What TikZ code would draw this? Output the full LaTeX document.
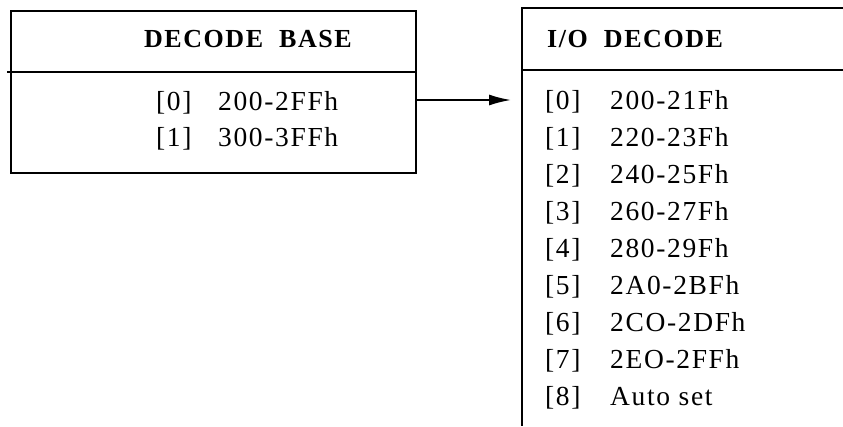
\documentclass[tikz,border=0pt]{standalone}
\usepackage{fontspec}
\setmainfont{Liberation Serif}
\newfontfamily\hdfont[LetterSpace=6]{Liberation Serif}
\newfontfamily\itfont[LetterSpace=6]{Liberation Serif}
\usetikzlibrary{arrows.meta}
\begin{document}
\begin{tikzpicture}[x=1pt,y=-1pt,
  frame/.style={line width=1.8pt},
  itemtext/.style={anchor=base west,inner sep=0pt,font=\itfont\fontsize{27.5}{30}\selectfont},
  headtext/.style={anchor=base,inner sep=0pt,font=\hdfont\bfseries\fontsize{26}{30}\selectfont},
  conn/.style={line width=1.8pt,-{Latex[length=22pt,width=11pt]}}]
\useasboundingbox (0,0) rectangle (843,426);
% left box
\node[frame,draw,rectangle,minimum width=405pt,minimum height=162pt,anchor=north west,inner sep=0pt] (lbox) at (10,10) {};
\draw[frame] (7,72) -- (lbox.east |- 0,72);
\node[headtext] (lhead) at (248,47) {DECODE\ \ BASE};
\node[itemtext] (l0) at (156,110) {\makebox[62pt][l]{[0]}200-2FFh};
\node[itemtext] (l1) at (156,146) {\makebox[62pt][l]{[1]}300-3FFh};
% right box (open)
\coordinate (rtl) at (522,8);
\coordinate (rtr) at (843,8);
\coordinate (rbl) at (522,426);
\coordinate (rsl) at (522,70);
\coordinate (rsr) at (843,70);
\draw[frame] (rtr) -- (rtl) -- (rbl);
\draw[frame] (rsl) -- (rsr);
\node[headtext,anchor=base west] (rhead) at (547,47) {I/O\ \ DECODE};
\foreach \i/\t in {0/200-21Fh,1/220-23Fh,2/240-25Fh,3/260-27Fh,4/280-29Fh,5/2A0-2BFh,6/2CO-2DFh,7/2EO-2FFh,8/Auto set}{
  \node[itemtext] (r\i) at (545,{109+37*\i}) {\makebox[65pt][l]{[\i]}\t};
}
% connector
\coordinate (atip) at (511,100);
\draw[conn] (lbox.east |- atip) -- (atip);
\end{tikzpicture}
\end{document}
